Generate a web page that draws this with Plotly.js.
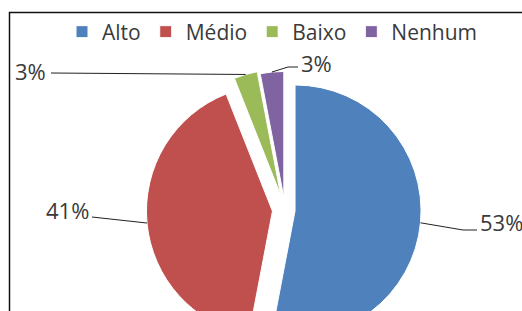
<!DOCTYPE html>
<html><head><meta charset="utf-8">
<script src="https://cdn.plot.ly/plotly-3.0.1.min.js"></script>
<style>
html,body{margin:0;padding:0;overflow:hidden;background:#fff}
#wrap{width:522px;height:311px;overflow:hidden;position:relative}
#chart{width:522px;height:500px}
</style>
</head><body><div id="wrap"><div id="chart"></div></div>
<script>
// ---- data ----
const categories = ['Alto', 'Médio', 'Baixo', 'Nenhum'];
const values = [53, 41, 3, 3];

// ---- style / layout ----
const colors = ['#4F81BD', '#C0504D', '#9BBB59', '#8064A2'];
const pulls = [0.08, 0.10, 0.12, 0.10];
const W = 522, H = 500;
const CX = 285, CY = 210, R = 126;
const maxPull = Math.max(...pulls);
const half = R * (1 + maxPull);
const domain = {x: [(CX - half) / W, (CX + half) / W], y: [1 - (CY + half) / H, 1 - (CY - half) / H]};
const labelLayout = [
  {tx: 478, ty: 222, xanchor: 'left',  route: [[477, 230], [463, 230]]},
  {tx: 91,  ty: 210, xanchor: 'right', route: [[92, 217]]},
  {tx: 48,  ty: 71,  xanchor: 'right', route: [[51, 73]]},
  {tx: 299, ty: 63,  xanchor: 'left',  route: [[298, 67], [288, 67]]}
];
const px = x => x / W, py = y => 1 - y / H;

const total = values.reduce((a, b) => a + b, 0);
let cum = 0;
const shapes = [{type: 'rect', xref: 'paper', yref: 'paper', x0: px(9.5), x1: 1.05, y0: -0.1, y1: py(12.5),
  line: {color: '#111', width: 1.5}, fillcolor: 'rgba(0,0,0,0)'}];
const annotations = [];
values.forEach((v, i) => {
  const mid = (cum + v / 2) / total * 2 * Math.PI;
  cum += v;
  const d = R * (1 + pulls[i]);
  const ex = CX + d * Math.sin(mid), ey = CY - d * Math.cos(mid);
  const L = labelLayout[i];
  const pts = L.route.concat([[ex, ey]]);
  const path = pts.map((p, k) => (k ? 'L' : 'M') + px(p[0]) + ',' + py(p[1])).join(' ');
  shapes.push({type: 'path', xref: 'paper', yref: 'paper', path: path, line: {color: '#222', width: 1}});
  annotations.push({xref: 'paper', yref: 'paper', x: px(L.tx), y: py(L.ty), xanchor: L.xanchor, yanchor: 'middle',
    text: Math.round(v / total * 100) + '%', showarrow: false, font: {size: 22, color: '#3a3a3a', family: 'Open Sans'}});
});

const trace = {
  type: 'pie', labels: categories, values: values, sort: false, direction: 'clockwise', rotation: 0,
  marker: {colors: colors, line: {color: '#fff', width: 1}}, pull: pulls,
  textinfo: 'none', hoverinfo: 'none', domain: domain
};
const layout = {
  width: W, height: H, margin: {l: 0, r: 0, t: 0, b: 0},
  paper_bgcolor: '#fff', font: {family: 'Open Sans', size: 21, color: '#3a3a3a'},
  showlegend: true,
  legend: {orientation: 'h', x: px(62), xanchor: 'left', y: py(32), yanchor: 'middle',
    font: {size: 21, color: '#3a3a3a'}, bgcolor: 'rgba(0,0,0,0)', itemclick: false, itemdoubleclick: false},
  shapes: shapes, annotations: annotations
};
Plotly.newPlot('chart', [trace], layout, {displayModeBar: false, staticPlot: true});
</script>
</body></html>
